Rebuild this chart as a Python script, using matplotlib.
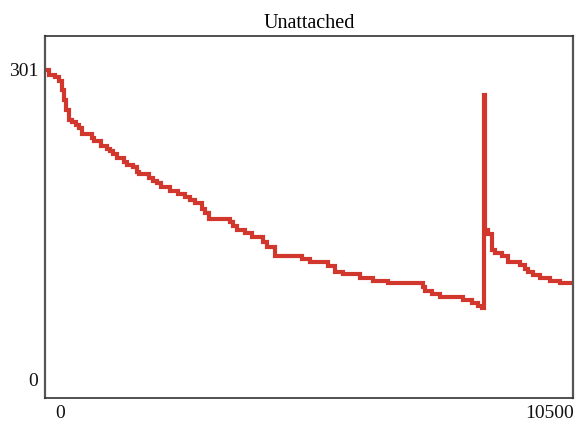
import numpy as np
import matplotlib
matplotlib.use("Agg")
import matplotlib.pyplot as plt

# step start positions (x) and values (y)
step_x = [-300, -236, -107, -21, 43, 86, 129, 193, 257, 343, 407, 471, 686, 729,
          879, 1007, 1071, 1136, 1221, 1371, 1436, 1564, 1650, 1693, 1907, 1993,
          2079, 2164, 2357, 2529, 2679, 2786, 2893, 3043, 3107, 3193, 3643, 3707,
          3793, 3964, 4114, 4350, 4436, 4607, 5186, 5357, 5743, 5893, 6064, 6429,
          6707, 7029, 7779, 7821, 7971, 8143, 8636, 8829, 8957, 9043, 9095, 9115,
          9171, 9257, 9321, 9471, 9600, 9857, 9964, 10029, 10136, 10286, 10500,
          10714]
step_y = [301, 296, 294, 290, 281, 272, 262, 252, 250, 247, 244, 239, 235, 232,
          227, 224, 222, 219, 215, 211, 208, 206, 202, 200, 196, 193,
          191, 187, 183, 180, 177, 174, 171, 166, 162, 156, 153, 149,
          145, 142, 138, 133, 129, 120, 117, 114, 110, 104, 102, 98,
          95, 93, 90, 86, 83, 80, 77, 74, 71, 69, 277, 145,
          141, 126, 123, 120, 114, 111, 107, 104, 101, 98, 95,
          93]
x_end = 10950

x_ticks = [0, 10500]
y_ticks = [0, 301]

xs = np.array(step_x + [x_end])
ys = np.array(step_y + [step_y[-1]])

plt.rcParams['font.family'] = ['Liberation Serif', 'DejaVu Serif']

fig = plt.figure(figsize=(5.77, 4.25), dpi=100)
ax = fig.add_axes([45 / 577, 27 / 425, 528 / 577, 362 / 425])

ax.step(xs, ys, where='post', color='#d1372c', lw=3.0, solid_joinstyle='miter')

ax.set_xlim(-321, 10994)
ax.set_ylim(-18.5, 334)
ax.set_xticks(x_ticks)
ax.set_xticklabels([str(v) for v in x_ticks])
ax.set_yticks(y_ticks)
ax.set_yticklabels([str(v) for v in y_ticks])
ax.tick_params(length=0, labelsize=14, colors='#111111')
ax.tick_params(axis='x', pad=5)
ax.tick_params(axis='y', pad=5)

for side in ['left', 'right']:
    ax.spines[side].set_color('#555555')
    ax.spines[side].set_linewidth(1.6)
for side in ['top', 'bottom']:
    ax.spines[side].set_color('#333333')
    ax.spines[side].set_linewidth(1.2)

ax.set_title('Unattached', fontsize=14.5, pad=6)

fig.savefig('out.png', dpi=100)
